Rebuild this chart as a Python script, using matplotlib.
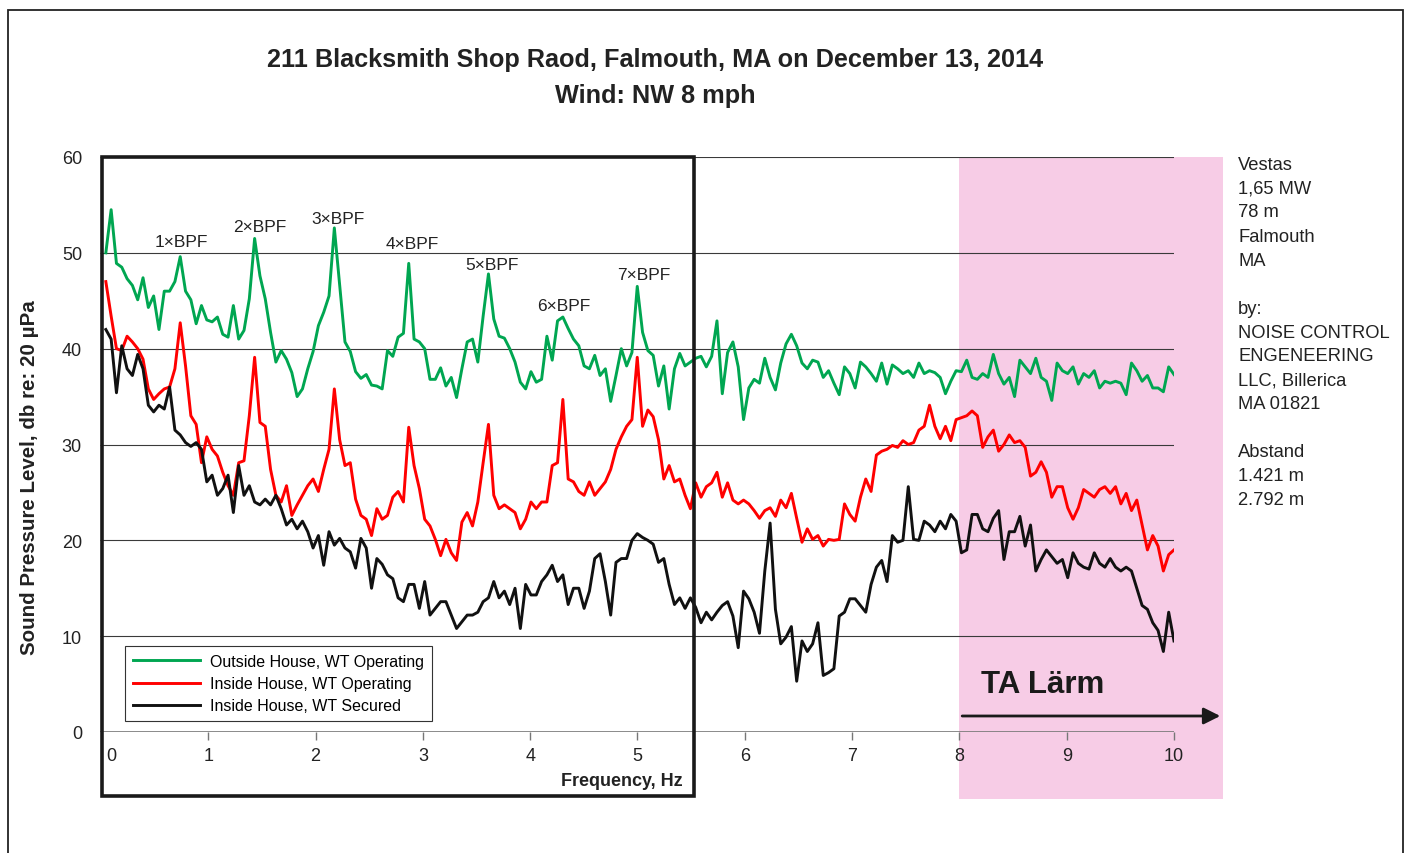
import matplotlib
matplotlib.use('Agg')
import matplotlib.pyplot as plt
import matplotlib.patches as patches
import matplotlib.transforms as mtransforms
import numpy as np

plt.rcParams['font.family'] = ['Liberation Sans', 'DejaVu Sans']

# spectra, one value per frequency bin from ~0.045 Hz to 10 Hz
outside_operating = [
    50.0,
    54.5, 48.9, 48.5, 47.3, 46.6, 45.1, 47.4, 44.3, 45.5, 42.0,
    46.0, 46.0, 47.0, 49.6, 46.0, 45.1, 42.6, 44.5, 43.0, 42.8,
    43.3, 41.5, 41.2, 44.5, 41.0, 41.9, 45.2, 51.5, 47.6, 45.2,
    41.7, 38.6, 39.8, 38.9, 37.5, 35.0, 35.8, 37.9, 39.7, 42.4,
    43.8, 45.5, 52.6, 46.6, 40.7, 39.7, 37.6, 36.9, 37.3, 36.2,
    36.1, 35.8, 39.8, 39.2, 41.2, 41.6, 48.9, 41.0, 40.7, 40.0,
    36.8, 36.8, 38.0, 36.1, 37.0, 34.9, 37.9, 40.7, 41.0, 38.6,
    43.4, 47.8, 43.1, 41.3, 41.1, 40.0, 38.6, 36.5, 35.8, 37.6,
    36.5, 36.8, 41.3, 38.8, 42.9, 43.3, 42.1, 41.0, 40.3, 38.2,
    37.9, 39.3, 37.2, 37.9, 34.5, 37.2, 40.0, 38.2, 39.6, 46.5,
    41.7, 39.8, 39.3, 36.1, 38.2, 33.7, 37.9, 39.5, 38.2, 38.6,
    39.0, 39.2, 38.1, 39.2, 42.9, 35.3, 39.6, 40.7, 38.1, 32.6,
    35.9, 36.8, 36.4, 39.0, 37.0, 35.7, 38.5, 40.5, 41.5, 40.3,
    38.5, 37.9, 38.8, 38.6, 37.0, 37.7, 36.4, 35.2, 38.1, 37.4,
    35.9, 38.6, 38.1, 37.4, 36.6, 38.5, 36.3, 38.3, 37.9, 37.4,
    37.7, 37.0, 38.5, 37.4, 37.7, 37.5, 37.0, 35.3, 36.6, 37.7,
    37.6, 38.8, 37.0, 36.8, 37.4, 37.0, 39.4, 37.4, 36.3, 37.0,
    35.0, 38.8, 38.1, 37.4, 39.0, 37.0, 36.6, 34.6, 38.5, 37.7,
    37.4, 38.1, 36.3, 37.4, 37.0, 37.7, 35.9, 36.6, 36.4, 36.6,
    36.4, 35.2, 38.5, 37.7, 36.6, 37.2, 35.9, 35.9, 35.5, 38.1,
    37.3,
]

inside_operating = [
    47.0,
    43.4, 40.0, 39.8, 41.3, 40.7, 40.0, 38.9, 35.8, 34.7, 35.3,
    35.8, 36.0, 37.9, 42.7, 38.2, 33.0, 32.1, 28.1, 30.8, 29.5,
    28.8, 27.1, 25.7, 24.7, 28.1, 28.3, 33.0, 39.1, 32.3, 31.9,
    27.4, 24.7, 24.0, 25.7, 22.6, 23.7, 24.7, 25.7, 26.4, 25.1,
    27.4, 29.5, 35.8, 30.5, 27.8, 28.1, 24.3, 22.6, 22.2, 20.5,
    23.3, 22.2, 22.6, 24.5, 25.1, 24.0, 31.8, 27.8, 25.4, 22.2,
    21.5, 20.1, 18.4, 20.1, 18.7, 17.9, 21.9, 22.9, 21.5, 24.0,
    28.1, 32.1, 24.7, 23.3, 23.7, 23.3, 22.9, 21.2, 22.2, 24.0,
    23.3, 24.0, 24.0, 27.8, 28.1, 34.7, 26.4, 26.1, 25.1, 24.7,
    26.1, 24.7, 25.4, 26.1, 27.4, 29.5, 30.8, 31.9, 32.6, 39.1,
    31.9, 33.6, 32.9, 30.5, 26.4, 27.8, 26.1, 26.4, 24.7, 23.3,
    26.0, 24.5, 25.6, 26.0, 27.1, 24.5, 26.0, 24.2, 23.8, 24.2,
    23.8, 23.1, 22.3, 23.1, 23.4, 22.5, 24.2, 23.4, 24.9, 22.3,
    19.8, 21.2, 20.1, 20.5, 19.4, 20.1, 20.0, 20.1, 23.8, 22.7,
    22.0, 24.5, 26.4, 25.1, 28.9, 29.3, 29.5, 29.9, 29.7, 30.4,
    30.0, 30.2, 31.5, 31.9, 34.1, 31.9, 30.6, 31.9, 30.4, 32.6,
    32.8, 33.0, 33.5, 33.0, 29.7, 30.8, 31.5, 29.3, 30.0, 31.0,
    30.2, 30.4, 29.7, 26.7, 27.1, 28.2, 27.1, 24.5, 25.6, 25.6,
    23.4, 22.2, 23.4, 25.3, 24.9, 24.5, 25.3, 25.6, 24.9, 25.6,
    23.8, 24.9, 23.1, 24.2, 21.6, 19.0, 20.5, 19.4, 16.8, 18.5,
    19.0,
]

inside_secured = [
    42.0,
    41.0, 35.4, 40.3, 37.9, 37.2, 39.4, 37.9, 34.1, 33.4, 34.1,
    33.7, 36.0, 31.5, 31.0, 30.2, 29.8, 30.2, 29.5, 26.1, 26.8,
    24.7, 25.4, 26.8, 22.9, 27.8, 24.7, 25.7, 24.0, 23.7, 24.3,
    23.7, 24.7, 23.3, 21.6, 22.2, 21.2, 22.0, 20.9, 19.2, 20.5,
    17.4, 20.9, 19.5, 20.2, 19.2, 18.8, 17.1, 20.2, 19.2, 15.0,
    18.1, 17.5, 16.4, 16.0, 14.0, 13.6, 15.4, 15.4, 12.9, 15.7,
    12.2, 12.9, 13.6, 13.6, 12.2, 10.8, 11.5, 12.2, 12.2, 12.5,
    13.6, 14.0, 15.7, 14.0, 14.7, 13.3, 15.0, 10.8, 15.4, 14.3,
    14.3, 15.7, 16.4, 17.4, 15.7, 16.4, 13.3, 15.0, 15.0, 12.9,
    14.7, 18.1, 18.6, 15.7, 12.2, 17.7, 18.1, 18.1, 20.0, 20.7,
    20.3, 20.0, 19.6, 17.7, 18.1, 15.4, 13.3, 14.0, 12.9, 14.0,
    13.0, 11.4, 12.5, 11.7, 12.5, 13.2, 13.6, 12.1, 8.8, 14.7,
    13.9, 12.5, 10.3, 16.8, 21.8, 12.8, 9.2, 9.9, 11.0, 5.3,
    9.5, 8.4, 9.2, 11.4, 5.9, 6.2, 6.6, 12.1, 12.5, 13.9,
    13.9, 13.2, 12.5, 15.4, 17.2, 17.9, 15.7, 20.5, 19.8, 20.0,
    25.6, 20.1, 20.0, 22.0, 21.6, 20.9, 22.0, 21.2, 22.7, 22.0,
    18.7, 19.0, 22.7, 22.7, 21.2, 20.9, 22.3, 23.1, 18.0, 20.9,
    20.9, 22.5, 19.4, 21.6, 16.8, 18.0, 19.0, 18.3, 17.6, 18.0,
    16.1, 18.7, 17.6, 17.2, 17.0, 18.7, 17.6, 17.2, 18.1, 17.2,
    16.8, 17.2, 16.8, 15.0, 13.2, 12.8, 11.4, 10.6, 8.4, 12.5,
    9.5,
]

# frequency bins, Hz
freq = np.linspace(0.045, 10.0, len(outside_operating))

series_labels = ['Outside House, WT Operating', 'Inside House, WT Operating',
                 'Inside House, WT Secured']
bpf_labels = ['1×BPF', '2×BPF', '3×BPF', '4×BPF', '5×BPF', '6×BPF', '7×BPF']
x_ticks = list(range(0, 11))
y_ticks = list(range(0, 61, 10))
side_lines = ['Vestas', '1,65 MW', '78 m', 'Falmouth', 'MA', '', 'by:',
              'NOISE CONTROL', 'ENGENEERING', 'LLC, Billerica', 'MA 01821', '',
              'Abstand', '1.421 m', '2.792 m']

# layout
W, H = 1406, 854
colors = ['#00a651', '#ff0000', '#111111']
bpf_pos = [(0.746, 51.2), (1.482, 52.7), (2.209, 53.6), (2.898, 51.0),
           (3.644, 48.8), (4.315, 44.5), (5.061, 47.7)]
x_left = -0.0093

fig = plt.figure(figsize=(W / 100, H / 100), dpi=100)
ax = fig.add_axes([100 / W, (H - 733) / H, 1074 / W, 575 / H])
ax.set_xlim(x_left, 10)
ax.set_ylim(0, 60)
for s in ax.spines.values():
    s.set_visible(False)

# TA Lärm band
ax.add_patch(patches.Rectangle((8, -7.0), 2.457, 67.0, fc='#f7cce6', ec='none',
                               clip_on=False, zorder=0))

ax.hlines(y_ticks[1:], x_left, 10, color='#3a3a3a', lw=0.8, zorder=1)
ax.hlines(0, x_left, 10, color='#777777', lw=1.2, zorder=1)

for vals, c, lab in zip([outside_operating, inside_operating, inside_secured], colors, series_labels):
    ax.plot(freq, vals, color=c, lw=2.1, label=lab, zorder=3)

ax.set_xticks(x_ticks)
ax.set_yticks(y_ticks)
ax.tick_params(axis='x', length=6, width=1, color='#777777', pad=5, labelsize=13, labelcolor='#222222')
ax.tick_params(axis='y', length=0, pad=13, labelsize=13, labelcolor='#222222')
tick0 = ax.xaxis.get_major_ticks()[0]
tick0.tick1line.set_visible(False)
tick0.label1.set_transform(tick0.label1.get_transform() +
                           mtransforms.ScaledTranslation(0.10, 0, fig.dpi_scale_trans))

for txt, (bx, by) in zip(bpf_labels, bpf_pos):
    ax.text(bx, by, txt, ha='center', va='center', fontsize=12.5,
            color='#222222', zorder=4)

# box around 0-5.5 Hz
ax.add_patch(patches.Rectangle((0.009, -6.68), 5.518, 66.68, fill=False, lw=2.6,
                               ec='#1a1a1a', clip_on=False, zorder=5))

ax.text(5.424, -5.1, 'Frequency, Hz', ha='right', va='center', fontsize=13,
        fontweight='bold', color='#222222')

ax.annotate('', xy=(10.457, 1.67), xytext=(8, 1.67), annotation_clip=False,
            arrowprops=dict(arrowstyle='-|>', color='#1a1a1a', lw=2, mutation_scale=25))
ax.text(8.78, 5.0, 'TA Lärm', ha='center', va='center', fontsize=22.5,
        fontweight='bold', color='#1a1a1a')

leg = ax.legend(loc='upper left', bbox_to_anchor=(25 / 1074, 86 / 575), borderaxespad=0,
                fontsize=11.5, handlelength=4.2, handletextpad=0.6, labelspacing=0.45,
                borderpad=0.5, fancybox=False, framealpha=1)
leg.get_frame().set_edgecolor('#333333')
leg.get_frame().set_linewidth(0.8)

fig.text(655 / W, 1 - 60 / H, '211 Blacksmith Shop Raod, Falmouth, MA on December 13, 2014',
         ha='center', va='center', fontsize=18.2, fontweight='bold', color='#222222')
fig.text(655 / W, 1 - 96 / H, 'Wind: NW 8 mph', ha='center', va='center',
         fontsize=18.2, fontweight='bold', color='#222222')
fig.text(30 / W, 1 - 478 / H, 'Sound Pressure Level, db re: 20 µPa', rotation=90,
         ha='center', va='center', fontsize=14.8, fontweight='bold', color='#222222')

for i, line in enumerate(side_lines):
    fig.text(1238 / W, 1 - (165 + 24 * i) / H, line, ha='left', va='center',
             fontsize=13.2, color='#222222')

fig.add_artist(patches.Rectangle((8 / W, -0.01), 1395 / W, (H - 11) / H + 0.01,
                                 transform=fig.transFigure, fill=False, lw=1.3, ec='#222222'))

fig.savefig('out.png', dpi=100)
